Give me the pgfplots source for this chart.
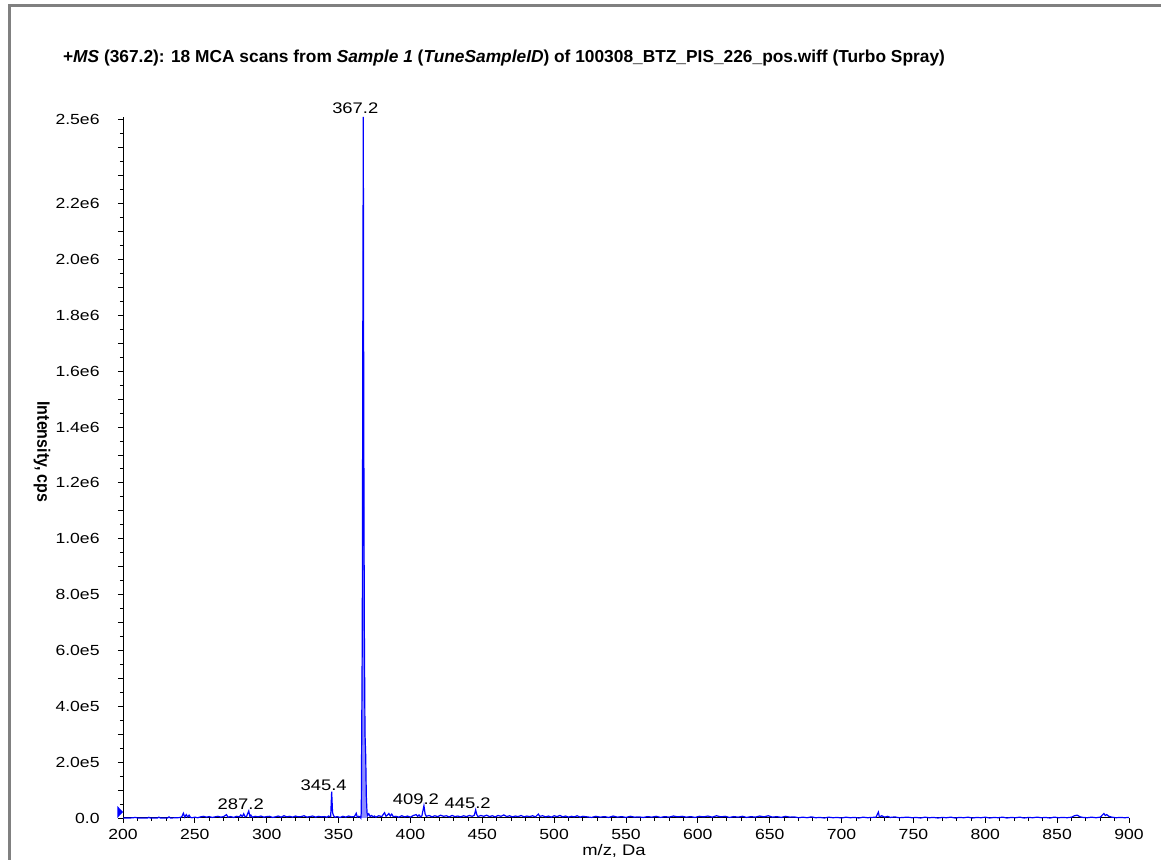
\documentclass[border=0pt]{standalone}
\usepackage{fontspec}
\setmainfont{Liberation Sans}
\usepackage{pgfplots}
\pgfplotsset{compat=1.18}
\definecolor{framegray}{RGB}{128,128,128}
\definecolor{specblue}{RGB}{0,0,255}
\begin{document}
\begin{tikzpicture}
\path[use as bounding box] (0,0) rectangle (870.75pt,645pt);
\draw[line width=2.25pt, framegray] (6.75pt,0pt) -- (6.75pt,640.9pt) -- (870.75pt,640.9pt);
\begin{axis}[
  at={(92.25pt,31.5pt)}, anchor=south west,
  scale only axis, width=754.5pt, height=525.75pt,
  xmin=200, xmax=900, ymin=0, ymax=2510000,
  axis x line=bottom, axis y line=left,
  axis line style={-, black, line width=0.75pt},
  tick align=outside,
  major tick length=3.75pt, minor tick length=2.25pt,
  every tick/.style={black, line width=0.6pt},
  xtick={200,250,300,350,400,450,500,550,600,650,700,750,800,850,900},
  xticklabels={200,250,300,350,400,450,500,550,600,650,700,750,800,850,900},
  minor x tick num=4,
  ytick={0,100000,200000,300000,400000,500000,600000,700000,800000,900000,1000000,1100000,1200000,1300000,1400000,1500000,1600000,1700000,1800000,1900000,2000000,2100000,2200000,2300000,2400000,2500000},
  yticklabels={0.0,,2.0e5,,4.0e5,,6.0e5,,8.0e5,,1.0e6,,1.2e6,,1.4e6,,1.6e6,,1.8e6,,2.0e6,,2.2e6,,,2.5e6},
  minor y tick num=1,
  scaled y ticks=false,
  ticklabel style={font=\fontsize{11}{13}\selectfont, xscale=1.2},
  yticklabel style={xshift=-8pt},
  xticklabel style={yshift=-1.5pt},
  clip=false,
]
\addplot[fill=specblue!45, draw=none] table {
x y
365.5 0
365.8 20000
366.1 300000
366.5 660000
366.9 1800000
367.2 2510000
367.5 1500000
367.9 700000
368.4 300000
368.9 220000
369.3 80000
369.8 0
};
\addplot[specblue, line width=0.9pt] table {
x y
200 0
205 0
209 2000
210 0
217 0
218 2500
219 0
224 0
225 3000
226 0
231 0
232 4000
233 0
238 1000
240 2000
241 5000
242 17000
243 3000
244 12000
245 4000
246 10000
247 2000
248 1000
250 3000
252 1000
254 4000
256 6000
258 3000
260 5000
262 2000
264 4000
266 6000
268 3000
270 5000
272 12000
273 3000
275 5000
277 2000
279 6000
281 4000
282 11000
283 5000
284 15000
285 4000
286 6000
287.5 25000
288.3 5000
289 10000
290 3000
292 6000
294 4000
296 7000
298 3000
300 5000
302 6000
304 2000
306 4000
308 7000
310 3000
312 8000
314 4000
316 6000
318 3000
320 7000
322 4000
324 5000
326 8000
328 3000
330 5000
332 7000
334 3000
336 6000
338 4000
340 5000
342 3000
343 7000
344.5 4000
345.2 94000
345.8 20000
346.5 8000
347.5 3000
349 5000
351 2000
353 6000
355 3000
357 7000
359 4000
361 5000
362.3 17000
363 3000
364 6000
365 4000
365.5 0
365.8 20000
366.1 300000
366.5 660000
366.9 1800000
367.2 2510000
367.5 1500000
367.9 700000
368.4 300000
368.9 220000
369.3 80000
369.8 20000
370.2 9000
371 15000
372 5000
373 9000
374 4000
375 7000
376 3000
378 8000
380 5000
381 12000
382 19000
383 6000
384 10000
385 16000
386 7000
387 14000
388 5000
390 6000
392 3000
394 8000
396 4000
398 7000
400 3000
402 9000
404 12000
405 6000
406 11000
407 4000
408 8000
409.4 44000
410.2 15000
411 6000
413 9000
415 4000
417 8000
419 5000
421 10000
423 6000
425 8000
427 4000
429 9000
431 5000
433 7000
435 4000
437 8000
439 5000
441 9000
443 6000
444.5 10000
445.4 29000
446.2 12000
447 5000
449 9000
451 6000
453 10000
455 5000
457 8000
459 4000
461 9000
463 6000
465 11000
467 5000
469 8000
471 4000
473 7000
475 5000
477 9000
479 4000
481 7000
483 5000
485 8000
487 4000
489 14000
490 6000
492 8000
494 4000
496 7000
498 3000
500 8000
502 5000
504 9000
506 4000
508 7000
510 3000
512 6000
514 4000
516 8000
518 3000
520 6000
523 4000
526 2000
529 6000
532 3000
535 5000
538 2000
541 7000
544 3000
547 5000
550 2000
553 6000
556 3000
559 4000
562 2000
565 5000
568 3000
571 6000
574 2000
577 5000
580 3000
583 7000
586 4000
589 6000
592 3000
595 5000
598 2000
601 6000
604 4000
607 7000
610 3000
613 8000
616 4000
619 6000
622 2000
625 5000
628 3000
631 6000
634 2000
637 5000
640 3000
643 7000
646 4000
649 8000
652 3000
655 5000
658 2000
661 6000
664 3000
667 4000
670 1000
673 3000
676 1000
679 4000
682 1000
685 2000
688 0
691 3000
694 1000
697 2000
700 0
703 3000
706 1000
709 2000
712 0
715 3000
718 1000
721 2000
724 3000
725.6 21000
726.3 4000
728 8000
730 3000
732 6000
734 2000
737 4000
740 1000
743 2000
746 3000
749 1000
752 2000
755 0
758 3000
761 1000
764 2000
767 0
770 2000
773 1000
776 3000
779 0
782 2000
785 1000
788 3000
791 0
794 2000
797 1000
800 3000
803 0
806 2000
809 1000
812 3000
815 0
818 2000
821 1000
824 3000
827 0
830 2000
833 1000
836 3000
839 1000
842 2000
845 0
848 3000
851 1000
854 2000
857 1000
860 3000
862 8000
864 10000
866 4000
868 2000
871 1000
874 3000
877 1000
880 3000
882.5 16000
883.5 9000
884.5 12000
886 6000
888 3000
891 1000
894 2000
897 1000
900 2000
};
\tikzset{pk/.style={anchor=south, inner sep=0pt, font=\fontsize{11.5}{13}\selectfont, xscale=1.2}}
\node[pk, xshift=-5pt, yshift=2.25pt] at (axis cs:367.2,2510000) {367.2};
\node[pk, xshift=-5pt, yshift=0.5pt] at (axis cs:345.2,94000) {345.4};
\node[pk, xshift=-5pt, yshift=0.5pt] at (axis cs:287.5,25000) {287.2};
\node[pk, xshift=-5pt, yshift=0.5pt] at (axis cs:409.4,44000) {409.2};
\node[pk, xshift=-5pt, yshift=0.5pt] at (axis cs:445.4,29000) {445.2};
\end{axis}
\fill[specblue] (92.25pt,36pt) -- (88pt,40.5pt) -- (88pt,31.5pt) -- cycle;
\node[font=\bfseries\fontsize{13}{15}\selectfont] at (378pt,601.5pt) {+\textit{MS} (367.2): 18 MCA scans from \textit{Sample 1} (\textit{TuneSampleID}) of 100308\_BTZ\_PIS\_226\_pos.wiff (Turbo Spray)};
\node[rotate=-90, font=\bfseries\fontsize{12}{14}\selectfont] at (31.5pt,306pt) {\scalebox{1}[1.12]{Intensity, cps}};
\node[font=\fontsize{11.5}{13}\selectfont, xscale=1.2] at (460.5pt,7pt) {m/z, Da};
\end{tikzpicture}
\end{document}
